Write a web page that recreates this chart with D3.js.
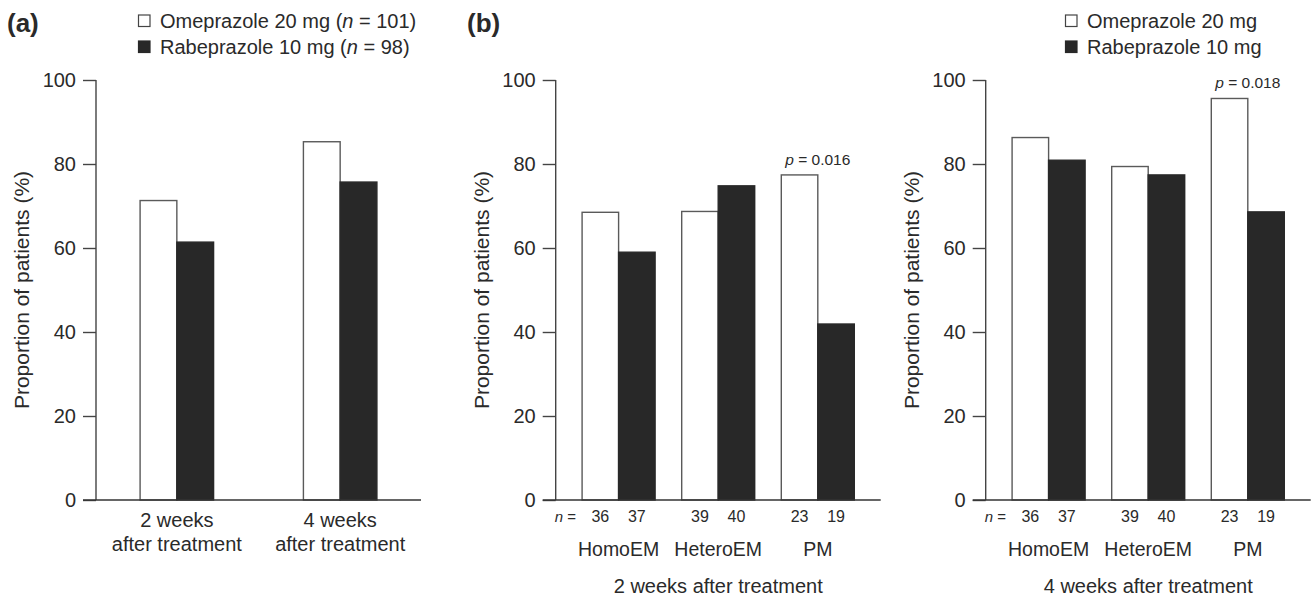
<!DOCTYPE html>
<html>
<head>
<meta charset="utf-8">
<script src="https://cdn.jsdelivr.net/npm/d3@7"></script>
<style>
  body { margin: 0; background: #fff; }
  svg text { font-family: "Liberation Sans", Arial, sans-serif; fill: #2a2a2a; }
</style>
</head>
<body>
<svg id="chart"></svg>
<script>
// data
const seriesNames = ['Omeprazole 20 mg', 'Rabeprazole 10 mg'];
const timeGroups = ['2 weeks', '4 weeks'];
const overallOme = [71.3, 85.3];
const overallRabe = [61.4, 75.7];

const genotypes = ['HomoEM', 'HeteroEM', 'PM'];
const week2Ome = [68.5, 68.7, 77.4];
const week2Rabe = [59.0, 74.8, 41.9];
const week4Ome = [86.3, 79.4, 95.6];
const week4Rabe = [80.9, 77.4, 68.6];
const nOme = [36, 39, 23];
const nRabe = [37, 40, 19];

const yTicks = [0, 20, 40, 60, 80, 100];

const width = 1312, height = 598;
const svg = d3.select('#chart').attr('width', width).attr('height', height);

const plotH = 420, plotW = 325, plotTop = 80;
const fills = ['#ffffff', '#282828'];

function drawPanel(cfg) {
  const g = svg.append('g').attr('transform', `translate(${cfg.left},${plotTop})`);

  const y = d3.scaleLinear().domain([0, 100]).range([plotH, 0]);
  const x0 = d3.scaleBand()
      .domain(cfg.groups)
      .range([0, plotW])
      .paddingInner(cfg.padInner)
      .paddingOuter(cfg.padOuter);
  const x1 = d3.scaleBand().domain([0, 1]).range([0, x0.bandwidth()]);

  const rows = cfg.groups.map((k, i) => ({ key: k, vals: [cfg.a[i], cfg.b[i]] }));

  // bars
  g.selectAll('.grp')
    .data(rows)
    .join('g')
      .attr('class', 'grp')
      .attr('transform', d => `translate(${x0(d.key)},0)`)
    .selectAll('rect')
    .data(d => d.vals.map((v, j) => ({ j, v })))
    .join('rect')
      .attr('x', d => x1(d.j))
      .attr('width', x1.bandwidth())
      .attr('y', d => y(d.v))
      .attr('height', d => plotH - y(d.v))
      .attr('fill', d => fills[d.j])
      .attr('stroke', d => d.j === 0 ? '#5a5a5a' : '#282828')
      .attr('stroke-width', 1.4);

  // y axis
  const yAxis = d3.axisLeft(y).tickValues(yTicks).tickSize(13).tickPadding(7);
  const yG = g.append('g').call(yAxis);
  yG.select('.domain').attr('stroke', '#444').attr('stroke-width', 1.4)
    .attr('d', `M0,${plotH}V0`);
  yG.selectAll('.tick line').attr('stroke', '#444').attr('stroke-width', 1.4);
  yG.selectAll('.tick text').style('font-size', '20px').attr('fill', '#2a2a2a');

  // baseline
  g.append('line')
    .attr('x1', -13).attr('x2', plotW)
    .attr('y1', plotH).attr('y2', plotH)
    .attr('stroke', '#333').attr('stroke-width', 1.4);

  // y label
  g.append('text')
    .attr('transform', `translate(${cfg.ylabX},${plotH / 2}) rotate(-90)`)
    .attr('text-anchor', 'middle')
    .style('font-size', '21px')
    .text('Proportion of patients (%)');

  return { g, x0, x1, y };
}

// panel (a)
const pa = drawPanel({ left: 96, groups: timeGroups, a: overallOme, b: overallRabe,
  padInner: 0.55, padOuter: 0.27, ylabX: -67 });
pa.g.selectAll('.cat')
  .data(timeGroups)
  .join('text')
    .attr('class', 'cat')
    .attr('x', d => pa.x0(d) + pa.x0.bandwidth() / 2)
    .attr('y', plotH + 27)
    .attr('text-anchor', 'middle')
    .style('font-size', '20px')
    .call(t => t.append('tspan').text(d => d))
    .call(t => t.append('tspan')
      .attr('x', d => pa.x0(d) + pa.x0.bandwidth() / 2)
      .attr('dy', 24).text('after treatment'));

// panels (b)
function genoPanel(left, ome, rabe, pText, subtitle) {
  const p = drawPanel({ left, groups: genotypes, a: ome, b: rabe,
    padInner: 0.267, padOuter: 0.265, ylabX: -67 });
  // n labels
  p.g.append('text')
    .attr('x', -1).attr('y', plotH + 22)
    .attr('text-anchor', 'start')
    .style('font-size', '15px')
    .html('<tspan font-style="italic">n</tspan> =');
  genotypes.forEach((k, i) => {
    [nOme[i], nRabe[i]].forEach((n, j) => {
      p.g.append('text')
        .attr('x', p.x0(k) + p.x1(j) + p.x1.bandwidth() / 2)
        .attr('y', plotH + 22)
        .attr('text-anchor', 'middle')
        .style('font-size', '16px')
        .text(n);
    });
  });
  p.g.selectAll('.geno')
    .data(genotypes)
    .join('text')
      .attr('class', 'geno')
      .attr('x', d => p.x0(d) + p.x0.bandwidth() / 2)
      .attr('y', plotH + 56)
      .attr('text-anchor', 'middle')
      .style('font-size', '19.5px')
      .text(d => d);
  p.g.append('text')
    .attr('x', p.x0('HeteroEM') + p.x0.bandwidth() / 2)
    .attr('y', plotH + 93)
    .attr('text-anchor', 'middle')
    .style('font-size', '20px')
    .text(subtitle);
  // p value above PM pair
  const pmIdx = genotypes.indexOf('PM');
  p.g.append('text')
    .attr('x', p.x0('PM') + p.x0.bandwidth() / 2)
    .attr('y', p.y(d3.max([ome[pmIdx], rabe[pmIdx]])) - 10)
    .attr('text-anchor', 'middle')
    .style('font-size', '15.5px')
    .html(`<tspan font-style="italic">p</tspan> = ${pText}`);
  return p;
}
genoPanel(555.7, week2Ome, week2Rabe, '0.016', '2 weeks after treatment');
genoPanel(985.7, week4Ome, week4Rabe, '0.018', '4 weeks after treatment');

// panel letters
svg.append('text').attr('x', 7).attr('y', 32)
  .style('font-size', '26px').style('font-weight', 'bold').text('(a)');
svg.append('text').attr('x', 467).attr('y', 32)
  .style('font-size', '26px').style('font-weight', 'bold').text('(b)');

// legends
function legend(x, labels) {
  const lg = svg.append('g').attr('transform', `translate(${x},0)`);
  labels.forEach((lab, i) => {
    lg.append('rect')
      .attr('x', 0.5).attr('y', 15 + i * 26)
      .attr('width', 11.5).attr('height', 11.5)
      .attr('fill', fills[i])
      .attr('stroke', i === 0 ? '#444' : '#282828').attr('stroke-width', 1.2);
    lg.append('text')
      .attr('x', 22).attr('y', 28 + i * 26)
      .style('font-size', '20px')
      .html(lab);
  });
}
legend(138, [
  seriesNames[0] + ' (<tspan font-style="italic">n</tspan> = 101)',
  seriesNames[1] + ' (<tspan font-style="italic">n</tspan> = 98)'
]);
legend(1065, seriesNames);
</script>
</body>
</html>
